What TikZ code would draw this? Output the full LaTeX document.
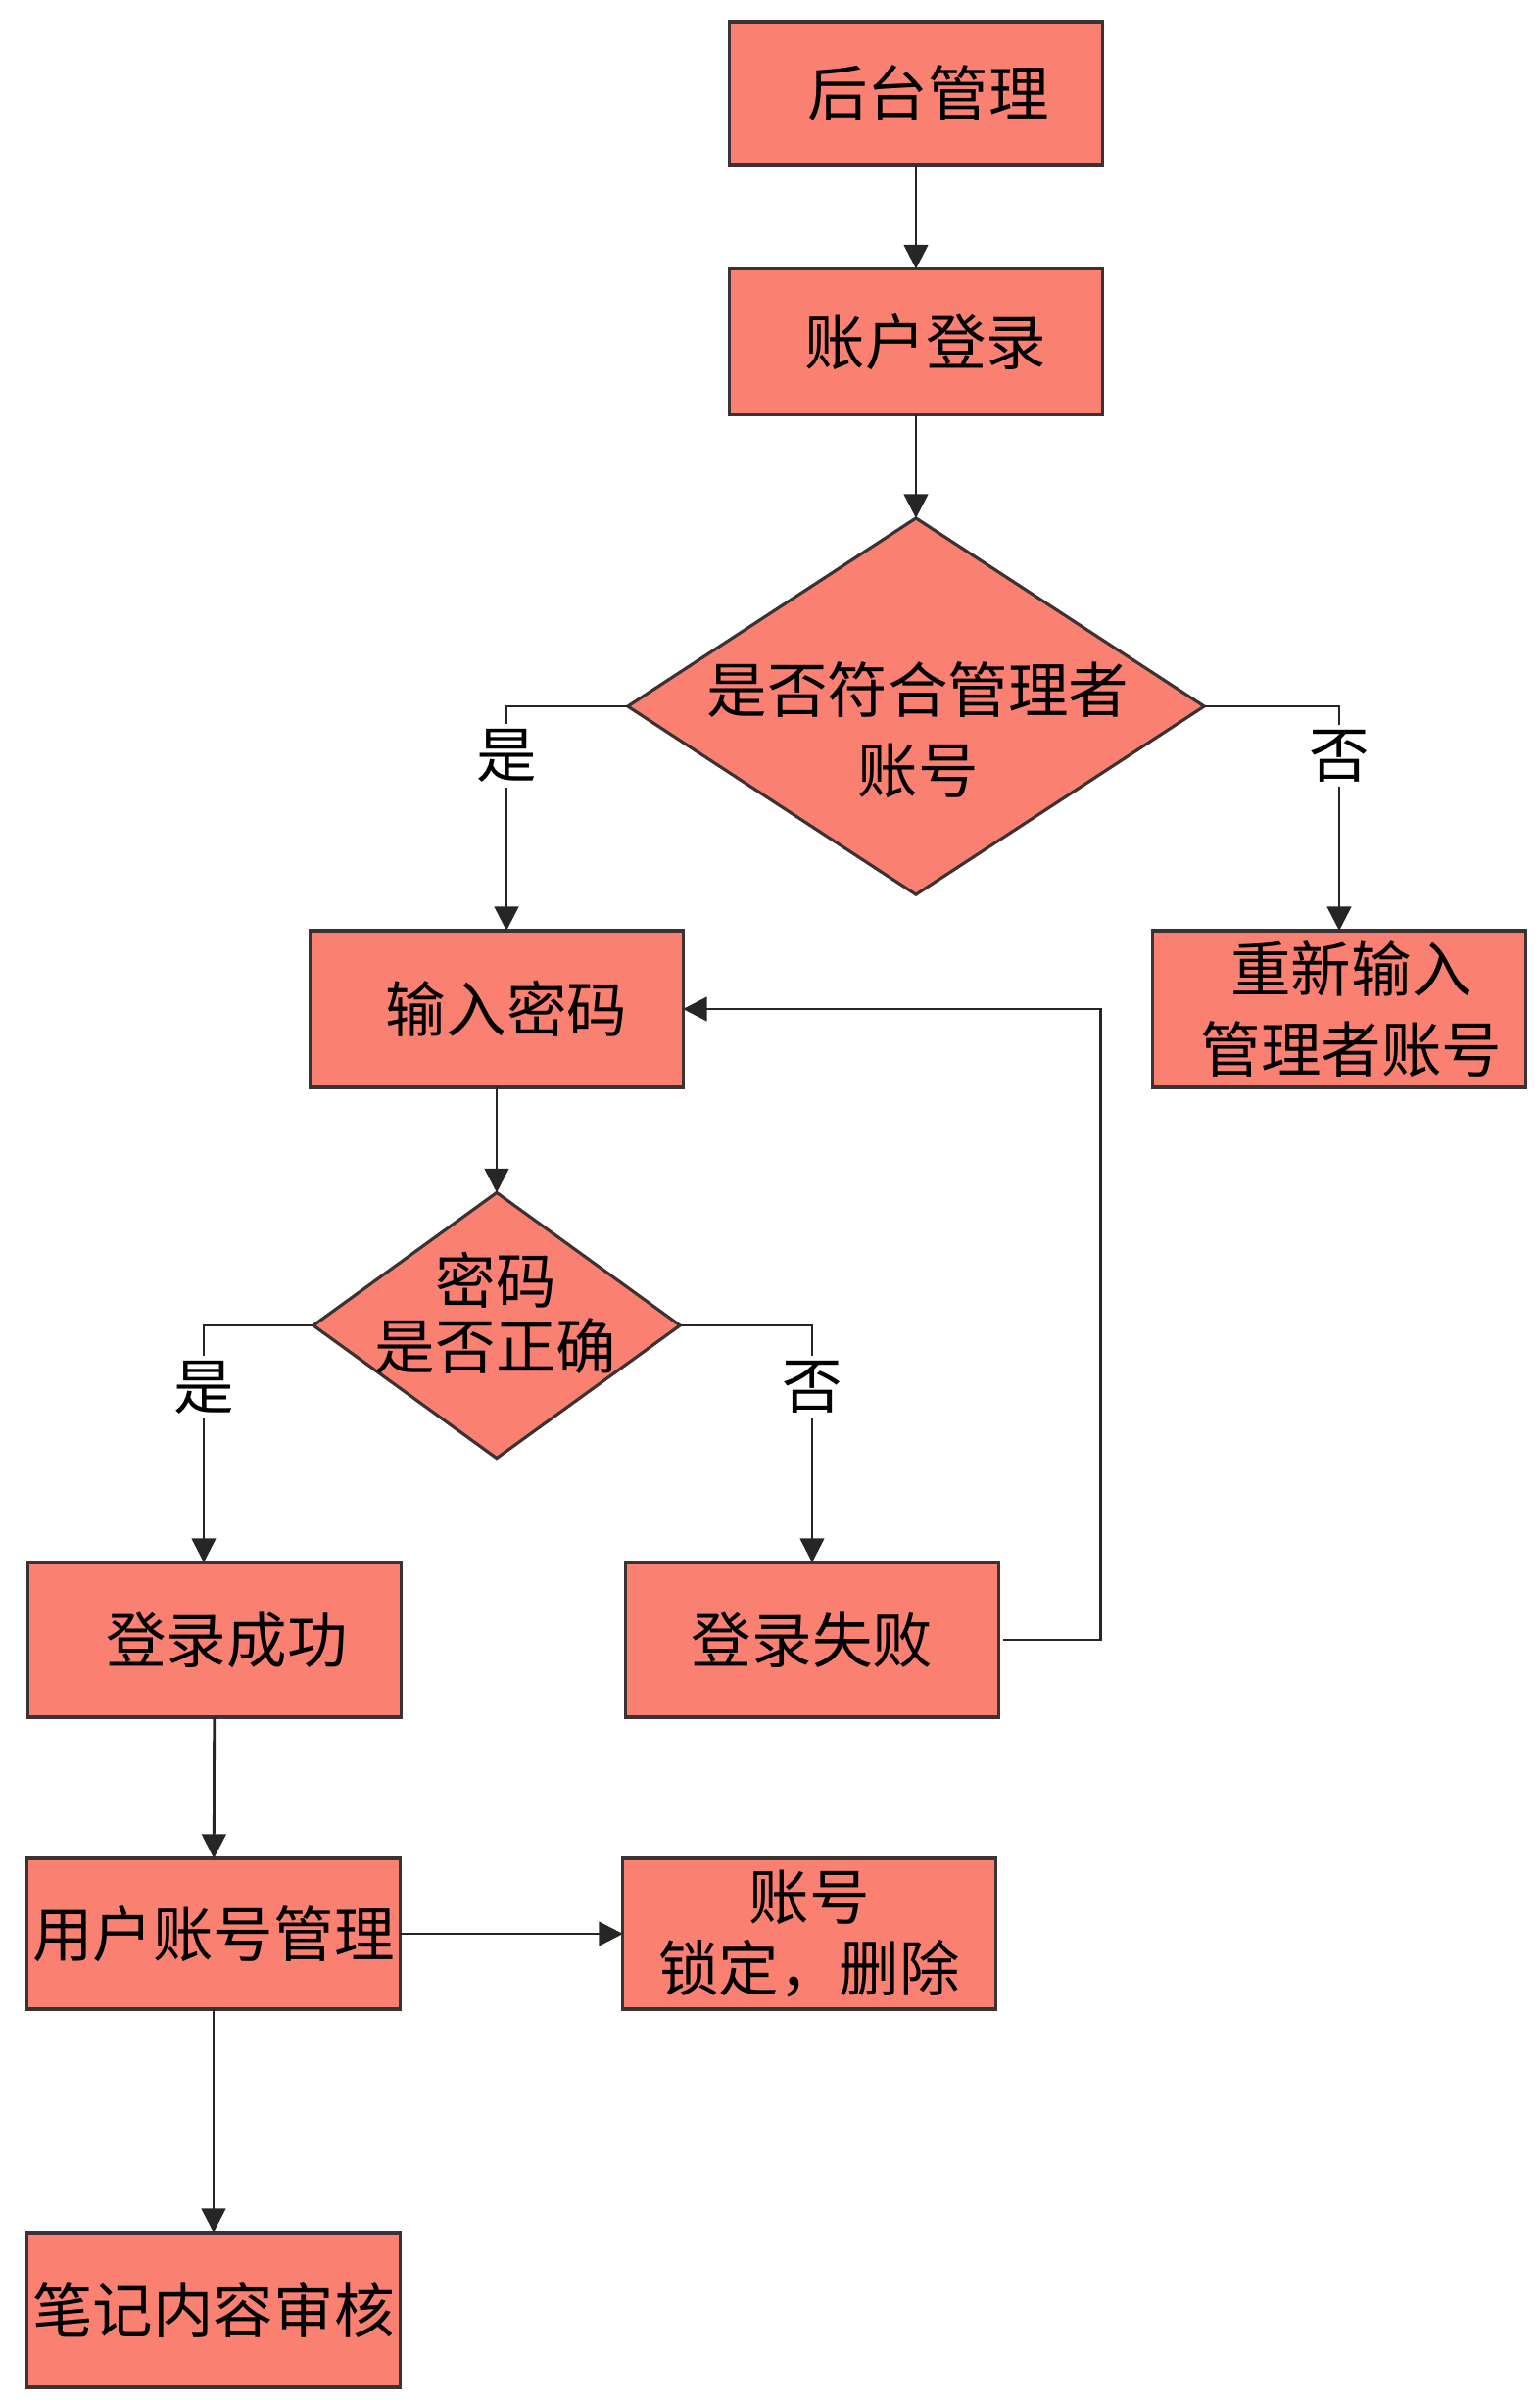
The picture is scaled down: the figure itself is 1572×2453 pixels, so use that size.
\documentclass[tikz,border=0pt]{standalone}
\usepackage{fontspec}
\setmainfont{Noto Sans CJK SC}
\usepackage{tikz}
\usetikzlibrary{arrows.meta,positioning,shapes.geometric}
\definecolor{AdminSalmon}{HTML}{FA8072}
\definecolor{AdminEdge}{HTML}{3B3333}
\tikzset{
  stepbox/.style={draw=AdminEdge,fill=AdminSalmon,line width=0.9pt,minimum width=3.8cm,
    minimum height=1.58cm,inner sep=0pt,outer sep=0pt,align=center},
  choice/.style={diamond,draw=AdminEdge,fill=AdminSalmon,line width=0.9pt,inner sep=0pt,outer sep=0pt},
  flow/.style={->,line width=0.8pt,draw=black!85},
  yesno/.style={fill=white,inner sep=1.5pt},
}

\begin{document}
\begin{tikzpicture}[x=0.01cm,y=-0.01cm,>={Triangle[length=7pt,width=7pt]},font=\fontsize{17.5}{21}\selectfont]
  \useasboundingbox (0,0) rectangle (1572,2453);
  \node[stepbox,minimum height=1.46cm] (admin) at (935,95) {\hspace*{0.25cm}后台管理};
  \node[stepbox,minimum height=1.49cm] (login) at (935,349) {\hspace*{0.2cm}账户登录};
  \node[choice,minimum width=5.88cm,minimum height=3.84cm] (isadmin) at (935,721) {};
  \node[align=center,font=\fontsize{17.5}{23.5}\selectfont] (isadmintxt) at (937,745) {是否符合管理者\\账号};
  \node[stepbox,minimum height=1.6cm] (pwd) at (507,1030) {\hspace*{0.2cm}输入密码};
  \node[stepbox,minimum height=1.6cm,font=\fontsize{17.5}{23.5}\selectfont] (retry) at (1367,1030) {\hspace*{0.25cm}重新输入\\\hspace*{0.25cm}管理者账号};
  \node[choice,minimum width=3.74cm,minimum height=2.71cm] (pwdok) at (507,1353) {};
  \node[align=center,font=\fontsize{17.5}{19}\selectfont] (pwdoktxt) at (506,1340) {密码\\是否正确};
  \node[stepbox] (ok) at (219,1674) {\hspace*{0.25cm}登录成功};
  \node[stepbox] (fail) at (829,1674) {登录失败};
  \node[stepbox,minimum height=1.54cm] (users) at (218,1974) {用户账号管理};
  \node[stepbox,minimum height=1.54cm,font=\fontsize{17.5}{20.5}\selectfont] (lock) at (826,1974) {账号\\锁定，删除};
  \node[stepbox] (notes) at (218,2358) {笔记内容审核};

  \draw[flow] (admin) -- (login);
  \draw[flow] (login) -- (isadmin);
  \draw[flow] (isadmin.west) -| node[yesno,pos=0.61] (yes1) {是} ([xshift=1mm]pwd.north);
  \draw[flow] (isadmin.east) -| node[yesno,pos=0.61] (no1) {否} (retry.north);
  \draw[flow] (pwd) -- (pwdok);
  \draw[flow] (pwdok.west) -| node[yesno,pos=0.63] (yes2) {是} ([xshift=-1.1mm]ok.north);
  \draw[flow] (pwdok.east) -| node[yesno,pos=0.63] (no2) {否} (fail.north);
  \draw[flow,shorten <=1.5pt] (fail.east) -- ++(104,0) |- (pwd.east);
  \draw[flow] (ok) -- (users);
  \draw[flow] (users) -- (lock);
  \draw[flow] (users) -- (notes);
\end{tikzpicture}
\end{document}
